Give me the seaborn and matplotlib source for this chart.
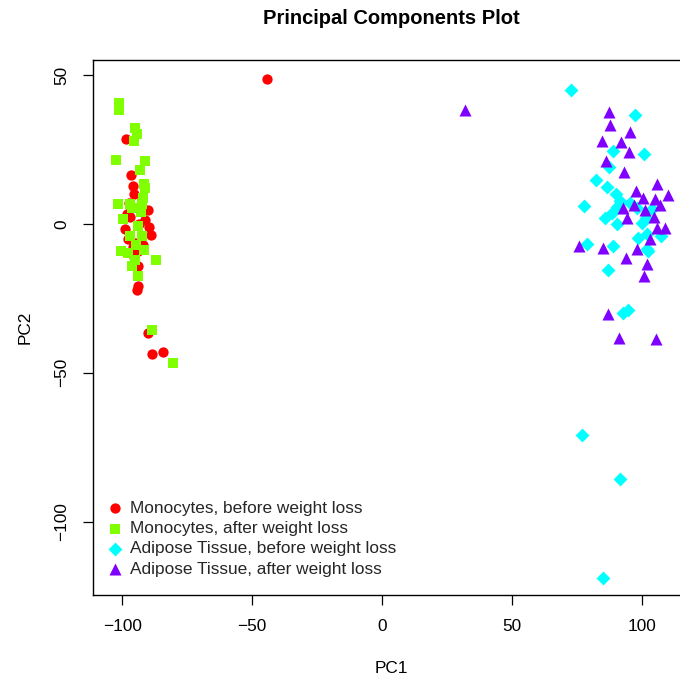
import numpy as np
import pandas as pd
import matplotlib
matplotlib.use("Agg")
import matplotlib.pyplot as plt
import seaborn as sns

# ---- data ----
groups = ["Monocytes, before weight loss", "Monocytes, after weight loss",
          "Adipose Tissue, before weight loss", "Adipose Tissue, after weight loss"]
colors = ["#FF0000", "#80FF00", "#00FFFF", "#8000FF"]

mono_before_x = [-44.2, -98.5, -96.5, -95.8, -95.4, -97.3, -90.0, -96.5, -98.1, -96.9,
                 -93.5, -89.6, -88.8, -97.7, -95.0, -95.8, -93.8, -91.9, -93.8, -93.8,
                 -94.2, -90.0, -88.5, -84.2, -98.8, -91.2, -95.4]
mono_before_y = [48.6, 28.4, 16.6, 12.8, 10.1, 7.1, 4.7, 5.7, 3.4, 2.4,
                 0.0, -1.0, -3.7, -5.1, -6.4, -7.8, -9.1, -7.1, -14.2, -20.9,
                 -22.3, -36.8, -43.6, -42.9, -1.7, 1.4, -11.1]

mono_after_x = [-101.2, -101.2, -95.0, -94.2, -95.4, -102.3, -91.2, -93.1, -91.5, -91.2,
                -91.9, -101.5, -96.9, -96.2, -92.3, -92.7, -99.6, -93.8, -96.9, -92.3,
                -100.4, -97.7, -91.5, -86.9, -95.0, -96.2, -93.8, -88.5, -80.4, -94.6]
mono_after_y = [40.5, 38.2, 32.4, 30.1, 28.0, 21.6, 21.3, 18.2, 13.5, 12.2,
                8.8, 6.8, 6.8, 5.4, 6.8, 4.1, 1.7, -0.7, -4.1, -4.1,
                -9.1, -9.8, -8.8, -12.2, -12.2, -14.2, -17.6, -35.5, -46.6, -7.1]

adi_before_x = [72.6, 97.3, 88.7, 100.8, 87.3, 82.3, 86.7, 90.0, 77.8, 85.8,
                88.3, 90.4, 90.5, 95.4, 99.9, 101.5, 98.5, 101.8, 107.3, 101.8,
                78.7, 89.0, 87.0, 94.7, 92.8, 77.0, 91.5, 84.9, 103.7, 98.0,
                102.4, 91.5]
adi_before_y = [44.9, 36.5, 24.4, 23.6, 19.0, 14.9, 12.5, 10.2, 6.1, 2.1,
                3.8, 5.7, 0.1, 7.2, 0.4, 2.1, -4.6, -3.4, -4.1, -8.5,
                -6.9, -7.5, -15.6, -28.8, -30.0, -71.0, -85.7, -118.9, 5.0, 5.5,
                -9.1, 7.8]

adi_after_x = [87.3, 87.7, 95.4, 84.5, 91.8, 94.9, 86.2, 93.1, 105.9, 97.6,
               109.9, 100.3, 105.0, 97.0, 92.6, 101.3, 106.9, 94.3, 104.7, 105.7,
               109.0, 103.1, 75.8, 85.1, 93.7, 98.0, 102.0, 100.9, 86.8, 91.3,
               105.4, 31.9]
adi_after_y = [37.6, 33.4, 30.8, 28.0, 27.5, 24.3, 21.3, 17.6, 13.4, 11.1,
               9.8, 8.7, 8.3, 6.4, 5.5, 4.6, 6.4, 2.1, 2.4, -1.3,
               -1.3, -5.1, -7.4, -8.2, -11.4, -8.5, -13.6, -17.6, -30.3, -38.4,
               -38.6, 38.2]

xticks = [-100, -50, 0, 50, 100]
yticks = [-100, -50, 0, 50]

# ---- build table ----
xs = [mono_before_x, mono_after_x, adi_before_x, adi_after_x]
ys = [mono_before_y, mono_after_y, adi_before_y, adi_after_y]
df = pd.concat([pd.DataFrame({"PC1": x, "PC2": y, "group": g})
                for x, y, g in zip(xs, ys, groups)], ignore_index=True)

sns.set_theme(style="ticks")
plt.rcParams["font.family"] = ["Liberation Sans", "DejaVu Sans"]

fig = plt.figure(figsize=(6.8, 6.78), dpi=100)
ax = fig.add_axes([93 / 680, 83 / 678, 597 / 680, 535 / 678])

palette = dict(zip(groups, colors))
markers = dict(zip(groups, ["o", "s", "D", "^"]))
sizes = {groups[0]: 55, groups[1]: 45, groups[2]: 50, groups[3]: 75}

for g in groups:
    sub = df[df["group"] == g]
    sns.scatterplot(data=sub, x="PC1", y="PC2", color=palette[g], marker=markers[g],
                    s=sizes[g], linewidth=0, ax=ax, label=g, clip_on=True)

ax.set_xlim(-111.2, 118.5)
ax.set_ylim(-124.7, 55.1)
ax.set_xticks(xticks)
ax.set_yticks(yticks)
ax.set_xticklabels([str(t).replace("-", "\u2212") for t in xticks], fontsize=12.4)
ax.set_yticklabels([str(t).replace("-", "\u2212") for t in yticks], fontsize=12.4,
                   rotation=90, va="center")
ax.tick_params(axis="both", direction="out", length=7, width=0.9, color="black",
               pad=10, labelcolor="black")
for sp in ax.spines.values():
    sp.set_color("black")
    sp.set_linewidth(1.0)

ax.set_xlabel("PC1", fontsize=12.4, labelpad=20, color="black")
ax.set_ylabel("PC2", fontsize=12.4, labelpad=16, color="black")
fig.text((93 + 690) / 2 / 680, 1 - 18 / 678, "Principal Components Plot",
         ha="center", va="center", fontsize=14.5, fontweight="bold", color="black")

h, l = ax.get_legend_handles_labels()
ax.legend(h, l, loc="lower left", bbox_to_anchor=(0.0, 0.012), frameon=False,
          fontsize=12.4, handletextpad=0.25, labelspacing=0.3, borderaxespad=0.3,
          handlelength=1.2, markerscale=1.0)

fig.savefig("out.png", dpi=100)
